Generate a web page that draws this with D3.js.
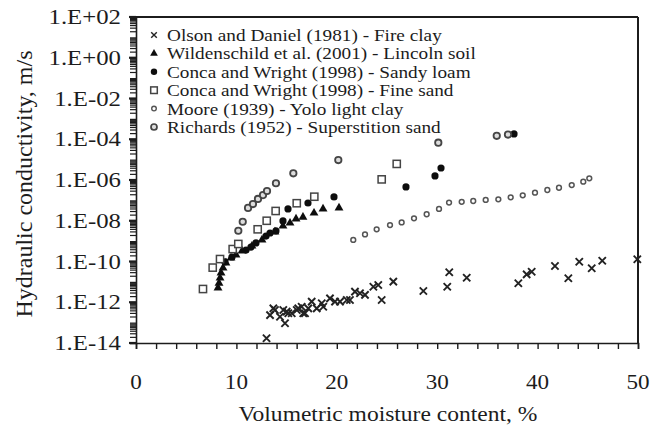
<!DOCTYPE html>
<html><head><meta charset="utf-8">
<script src="https://cdn.jsdelivr.net/npm/d3@7"></script>
</head><body style="margin:0">
<svg id="c" width="650" height="431"></svg>
<script>
// ---- data (moisture %, log10 of hydraulic conductivity m/s) ----
const seriesNames = [
  "Olson and Daniel (1981) - Fire clay",
  "Wildenschild et al. (2001) - Lincoln soil",
  "Conca and Wright (1998) - Sandy loam",
  "Conca and Wright (1998) - Fine sand",
  "Moore (1939) - Yolo light clay",
  "Richards (1952) - Superstition sand"
];
const olsonX = [13.0,13.35,13.68,13.84,14.34,14.67,14.84,15.01,15.17,15.51,16.01,16.16,16.5,16.66,16.83,17.16,17.5,18.0,18.5,18.65,19.32,19.82,20.32,20.99,21.31,21.81,22.31,22.81,23.64,24.13,24.47,25.63,28.62,31.0,31.2,32.94,38.08,38.91,39.41,41.73,43.06,44.15,45.39,46.44,49.93];
const olsonK = [-13.77,-12.63,-12.3,-12.38,-12.71,-12.38,-13.03,-12.46,-12.54,-12.54,-12.38,-12.3,-12.22,-12.54,-12.54,-12.3,-11.97,-12.3,-12.05,-12.22,-11.81,-11.97,-11.97,-11.89,-11.89,-11.48,-11.56,-11.64,-11.24,-11.15,-11.89,-10.99,-11.45,-11.24,-10.53,-10.8,-11.07,-10.63,-10.5,-10.22,-10.82,-10.01,-10.33,-9.96,-9.89];
const wildX = [8.17,8.27,8.37,8.47,8.67,8.96,9.46,9.96,10.56,11.55,12.55,13.84,14.64,15.34,15.94,16.63,17.73,18.63,20.22];
const wildK = [-11.3,-11.06,-10.81,-10.56,-10.32,-10.07,-9.83,-9.68,-9.48,-9.24,-8.94,-8.55,-8.26,-8.11,-7.91,-7.82,-7.62,-7.42,-7.37];
const loamX = [8.86,9.56,10.96,11.45,11.95,12.95,13.35,13.94,14.64,15.14,17.13,19.72,26.89,29.78,30.38,37.65];
const loamK = [-10.02,-9.78,-9.44,-9.29,-9.09,-8.75,-8.6,-8.5,-8.01,-7.42,-7.13,-6.83,-6.34,-5.8,-5.41,-3.74];
const sandX = [6.67,7.64,8.37,9.63,10.19,12.12,13.02,13.91,16.01,17.76,24.47,25.97];
const sandK = [-11.35,-10.3,-9.88,-9.39,-9.14,-8.42,-8.0,-7.52,-7.14,-6.82,-5.97,-5.21];
const mooreX = [21.64,22.81,23.97,25.3,26.46,27.69,28.95,30.18,31.18,32.44,33.59,34.83,36.09,37.32,38.52,39.74,40.97,42.13,43.4,44.55,45.15];
const mooreK = [-8.94,-8.67,-8.42,-8.21,-8.08,-7.88,-7.68,-7.42,-7.11,-7.07,-7.03,-6.98,-6.95,-6.85,-6.75,-6.62,-6.49,-6.38,-6.25,-6.08,-5.92];
const richX = [10.19,10.63,11.16,11.65,12.15,12.65,13.05,13.94,15.67,20.15,30.11,35.93,37.05];
const richK = [-8.49,-8.05,-7.37,-7.18,-6.93,-6.74,-6.54,-6.16,-5.67,-5.02,-4.17,-3.83,-3.77];
const xTicks = [0,10,20,30,40,50];
const yTickExp = [2,0,-2,-4,-6,-8,-10,-12,-14];
const yTickLabels = ["1.E+02","1.E+00","1.E-02","1.E-04","1.E-06","1.E-08","1.E-10","1.E-12","1.E-14"];
const xTitle = "Volumetric moisture content, %";
const yTitle = "Hydraulic conductivity, m/s";

// ---- layout ----
const L = 136, R = 638, T = 17, B = 343;
const svg = d3.select("#c");
const x = d3.scaleLinear().domain([0,50]).range([L,R]);
const y = d3.scaleLog().domain([1e-14,1e2]).range([B,T]);
const ink = "#1c1c1c";

const defs = svg.append("defs");
defs.append("filter").attr("id","soft").attr("x","-50%").attr("y","-50%").attr("width","200%").attr("height","200%")
  .append("feGaussianBlur").attr("stdDeviation",0.55);

// text helper: serif font set directly, width stretched via textLength
function stext(tx, ty, str, size, sx, anchor, rot){
  const t = svg.append("text").attr("font-family","Liberation Serif").attr("font-size",size)
    .attr("fill",ink).attr("text-anchor",anchor||"start").text(str);
  if (rot) t.attr("transform",`translate(${tx},${ty}) rotate(${rot})`).attr("x",0).attr("y",0);
  else t.attr("x",tx).attr("y",ty);
  if (sx !== 1) {
    const w = t.node().getComputedTextLength();
    if (w > 0) t.attr("textLength", w*sx).attr("lengthAdjust","spacingAndGlyphs");
  }
  return t;
}

// axes
const xAxis = d3.axisBottom(x).tickValues(d3.range(0,51,2)).tickSize(6).tickFormat("");
svg.append("g").attr("transform",`translate(0,${B})`).call(xAxis)
  .call(g=>{g.select(".domain").attr("stroke",ink).attr("stroke-width",1.6);
            g.selectAll(".tick line").attr("stroke",ink).attr("stroke-width",1.4);});
const minor = [];
for (let e=-14;e<2;e++) for (let m=1;m<10;m++) minor.push(m*Math.pow(10,e));
minor.push(1e2);
const yAxis = d3.axisLeft(y).tickValues(minor).tickSize(6).tickFormat("");
svg.append("g").attr("transform",`translate(${L},0)`).call(yAxis)
  .call(g=>{g.select(".domain").attr("stroke",ink).attr("stroke-width",1.6);
            g.selectAll(".tick line").attr("stroke",ink).attr("stroke-width",1.2);});
svg.append("g").selectAll("line").data(yTickExp).join("line")
  .attr("x1",L-7).attr("x2",L).attr("y1",d=>y(Math.pow(10,d))).attr("y2",d=>y(Math.pow(10,d)))
  .attr("stroke",ink).attr("stroke-width",2.2);
svg.append("line").attr("x1",L).attr("x2",R).attr("y1",T).attr("y2",T).attr("stroke",ink).attr("stroke-width",2);
svg.append("line").attr("x1",R).attr("x2",R).attr("y1",T).attr("y2",B).attr("stroke",ink).attr("stroke-width",2);

// tick labels & titles
yTickLabels.forEach((s,i)=>stext(121,y(Math.pow(10,yTickExp[i]))+7,s,21,1.18,"end"));
xTicks.forEach(v=>stext(x(v),389,String(v),21,1.1,"middle"));
stext(388,421,xTitle,21,1.12,"middle");
stext(32,184,yTitle,24,1,"middle",-90);

// markers
const marks = svg.append("g").attr("filter","url(#soft)");
function pts(X,K){return X.map((v,i)=>[x(v),y(Math.pow(10,K[i]))]);}
marks.append("g").selectAll("path").data(pts(olsonX,olsonK)).join("path")
  .attr("transform",d=>`translate(${d[0]},${d[1]})`)
  .attr("d", d3.symbol().type(d3.symbolTimes).size(36)()).attr("fill","none").attr("stroke","#222").attr("stroke-width",1.9);
marks.append("g").selectAll("path").data(pts(wildX,wildK)).join("path")
  .attr("transform",d=>`translate(${d[0]},${d[1]})`)
  .attr("d", d3.symbol().type(d3.symbolTriangle).size(34)()).attr("fill","#111");
marks.append("g").selectAll("circle").data(pts(loamX,loamK)).join("circle")
  .attr("cx",d=>d[0]).attr("cy",d=>d[1]).attr("r",3.6).attr("fill","#111");
marks.append("g").selectAll("rect").data(pts(sandX,sandK)).join("rect")
  .attr("x",d=>d[0]-3.6).attr("y",d=>d[1]-3.6).attr("width",7.2).attr("height",7.2)
  .attr("fill","#fff").attr("stroke","#444").attr("stroke-width",1.5);
marks.append("g").selectAll("circle").data(pts(mooreX,mooreK)).join("circle")
  .attr("cx",d=>d[0]).attr("cy",d=>d[1]).attr("r",2.4).attr("fill","#fff").attr("stroke","#555").attr("stroke-width",1.5);
marks.append("g").selectAll("circle").data(pts(richX,richK)).join("circle")
  .attr("cx",d=>d[0]).attr("cy",d=>d[1]).attr("r",3.2).attr("fill","#ddd").attr("stroke","#444").attr("stroke-width",1.8);

// legend
const rowY = i => 35 + i*18.4;
const lx = 154;
seriesNames.forEach((s,i)=>stext(167,rowY(i)+6,s,17.5,1.1,"start"));
const lm = svg.append("g").attr("filter","url(#soft)");
lm.append("path").attr("transform",`translate(${lx},${rowY(0)})`).attr("d",d3.symbol().type(d3.symbolTimes).size(22)()).attr("fill","none").attr("stroke","#222").attr("stroke-width",1.4);
lm.append("path").attr("transform",`translate(${lx},${rowY(1)})`).attr("d",d3.symbol().type(d3.symbolTriangle).size(26)()).attr("fill","#111");
lm.append("circle").attr("cx",lx).attr("cy",rowY(2)).attr("r",3.2).attr("fill","#111");
lm.append("rect").attr("x",lx-3.3).attr("y",rowY(3)-3.3).attr("width",6.6).attr("height",6.6).attr("fill","#fff").attr("stroke","#444").attr("stroke-width",1.5);
lm.append("circle").attr("cx",lx).attr("cy",rowY(4)).attr("r",2.3).attr("fill","#fff").attr("stroke","#555").attr("stroke-width",1.4);
lm.append("circle").attr("cx",lx).attr("cy",rowY(5)).attr("r",3).attr("fill","#ddd").attr("stroke","#444").attr("stroke-width",1.7);
</script></body></html>
